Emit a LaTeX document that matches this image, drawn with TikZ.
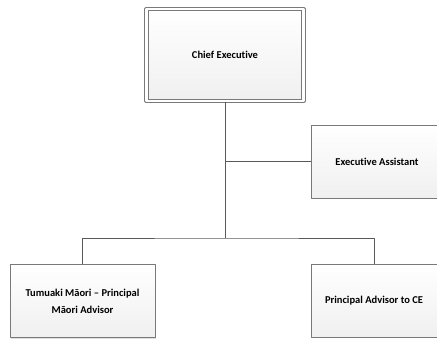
\documentclass[tikz,border=0pt]{standalone}
\usepackage{fontspec}
\setmainfont{Carlito}[Ligatures={NoCommon}]
\usetikzlibrary{shadows}
\begin{document}
\begin{tikzpicture}[x=1pt, y=-1pt, font=\fontsize{10.5}{17}\selectfont\bfseries, line join=round,
		post/.style={draw=gray!95!black, line width=.8pt, top color=white, bottom color=gray!12,
			drop shadow={shadow xshift=1.2pt, shadow yshift=-1.2pt, opacity=.25},
			align=center, inner sep=0pt},
		head/.style={post, line width=1.1pt, double=white, double distance=2.4pt},
		wire/.style={draw=gray!70!black, line width=.8pt}]
		\useasboundingbox (0,0) rectangle (437,338);
		\node[head, minimum width=157pt, minimum height=92pt](ce) at (225,55){Chief Executive};
		\node[post, minimum width=132pt, minimum height=73pt](ea) at (377,161.5){Executive Assistant};
		\node[post, minimum width=145pt, minimum height=73pt](tm) at (82.5,301){Tumuaki Māori – Principal\\Māori Advisor};
		\node[post, minimum width=126pt, minimum height=73pt](pa) at (374,300.5){Principal Advisor to CE};
		% bus lines
		\coordinate (mid) at (225,161.5);
		\coordinate (hub) at (225,238);
		\draw[wire](ce.south)--(hub);
		\draw[wire](mid)--(ea.west);
		\draw[wire](tm.north)|-(hub)-|(pa.north);
	\end{tikzpicture}
\end{document}
